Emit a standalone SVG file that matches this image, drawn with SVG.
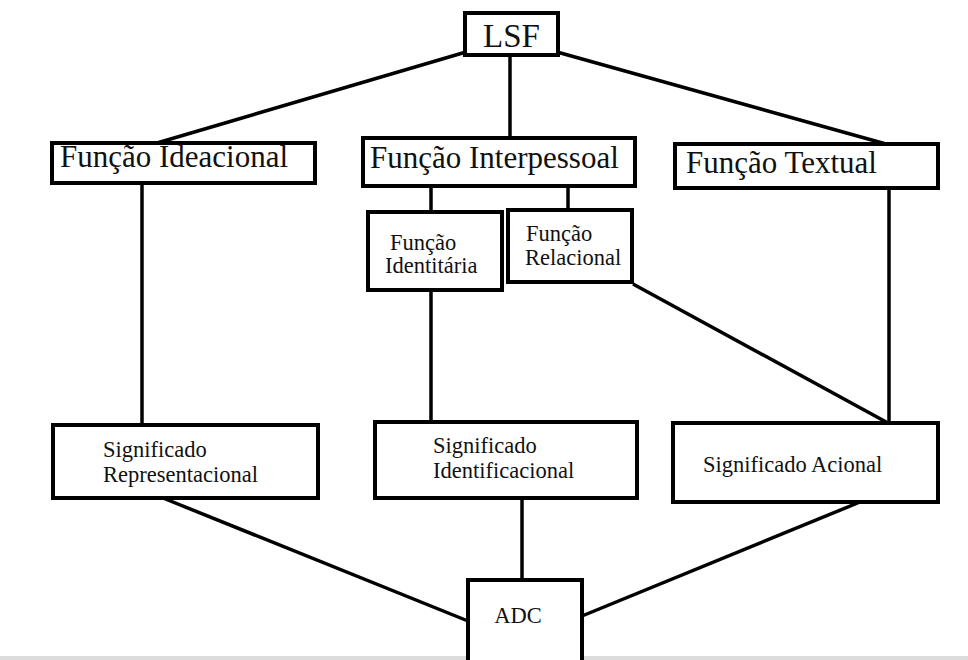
<svg xmlns="http://www.w3.org/2000/svg" width="968" height="660" viewBox="0 0 968 660">
<style>
.box{fill:#fff;stroke:#000;stroke-width:4}
.ln{stroke:#000;stroke-width:3.5;fill:none}
text{font-family:"Liberation Serif","Times New Roman",serif;fill:#111}
.big{font-size:31px}
.sm{font-size:22.5px}
</style>
<rect width="968" height="660" fill="#fff"/>
<rect x="0" y="656" width="968" height="4" fill="#dcdcdc"/>
<g id="connectors">
<line class="ln" x1="466" y1="52" x2="157" y2="143"/>
<line class="ln" x1="510" y1="55" x2="510" y2="138"/>
<line class="ln" x1="557" y1="52" x2="886" y2="144"/>
<line class="ln" x1="142" y1="183" x2="142" y2="425"/>
<line class="ln" x1="431" y1="186" x2="431" y2="212"/>
<line class="ln" x1="568" y1="186" x2="568" y2="210"/>
<line class="ln" x1="431" y1="290" x2="431" y2="422"/>
<line class="ln" x1="633" y1="284" x2="888" y2="423"/>
<line class="ln" x1="889" y1="188" x2="889" y2="423"/>
<line class="ln" x1="163" y1="498" x2="468" y2="621"/>
<line class="ln" x1="522" y1="498" x2="522" y2="580"/>
<line class="ln" x1="860" y1="502" x2="582" y2="616"/>
</g>
<g id="lsf"><rect class="box" x="465" y="13" width="93" height="42"/><text x="511.5" y="47" font-size="33" text-anchor="middle">LSF</text></g>
<g id="ideacional"><rect class="box" x="52" y="143" width="263" height="40"/><text class="big" x="60" y="167">Função Ideacional</text></g>
<g id="interpessoal"><rect class="box" x="363" y="138" width="272" height="48"/><text class="big" x="370" y="168">Função Interpessoal</text></g>
<g id="textual"><rect class="box" x="675" y="144" width="263" height="44"/><text class="big" x="686" y="173">Função Textual</text></g>
<g id="identitaria"><rect class="box" x="368" y="212" width="134" height="78"/><text class="sm" x="390" y="250">Função</text><text class="sm" x="385" y="273">Identitária</text></g>
<g id="relacional"><rect class="box" x="508" y="210" width="124" height="72"/><text class="sm" x="526" y="241">Função</text><text class="sm" x="525" y="265">Relacional</text></g>
<g id="representacional"><rect class="box" x="53" y="425" width="265" height="73"/><text class="sm" x="103" y="457">Significado</text><text class="sm" x="103" y="482">Representacional</text></g>
<g id="identificacional"><rect class="box" x="375" y="422" width="262" height="76"/><text class="sm" x="433" y="453">Significado</text><text class="sm" x="433" y="478">Identificacional</text></g>
<g id="acional"><rect class="box" x="673" y="423" width="265" height="79"/><text class="sm" x="703" y="472">Significado Acional</text></g>
<g id="adc"><rect class="box" x="468" y="580" width="114" height="84"/><text class="sm" x="518" y="623" text-anchor="middle">ADC</text></g>
</svg>
